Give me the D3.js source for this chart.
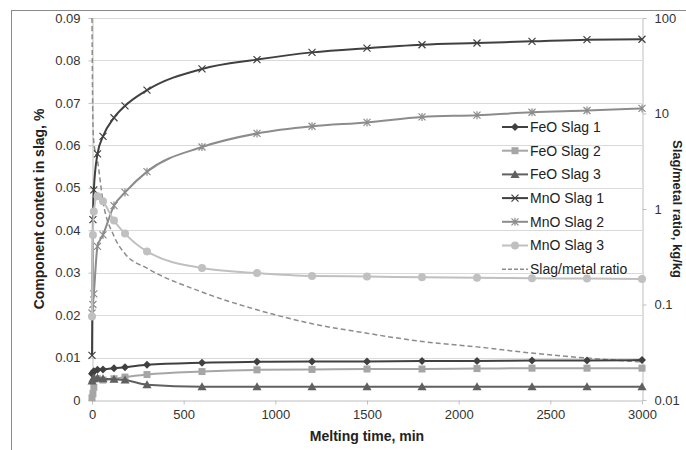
<!DOCTYPE html>
<html>
<head>
<meta charset="utf-8">
<script src="https://d3js.org/d3.v7.min.js"></script>
<style>
    body { margin: 0; padding: 0; background: #fff; }
    svg { display: block; font-family: Arial, "Liberation Sans", sans-serif; }
</style>
</head>
<body>
<div id="chart"></div>
<script>
// Data
const times = [0, 5, 10, 30, 60, 120, 180, 300, 600, 900, 1200, 1500, 1800, 2100, 2400, 2700, 3000];

const feoSlag1 = [0.0062, 0.0065, 0.0068, 0.0071, 0.0072, 0.0075, 0.0077, 0.0083, 0.0088, 0.0090, 0.0091, 0.0091, 0.0092, 0.0092, 0.0093, 0.0093, 0.0094];
const feoSlag2 = [0.0005, 0.0015, 0.0030, 0.0050, 0.0047, 0.0050, 0.0054, 0.0060, 0.0067, 0.0071, 0.0072, 0.0073, 0.0073, 0.0074, 0.0075, 0.0075, 0.0075];
const feoSlag3 = [0.0045, 0.0050, 0.0052, 0.0052, 0.0050, 0.0049, 0.0047, 0.0036, 0.0031, 0.0031, 0.0031, 0.0031, 0.0031, 0.0031, 0.0031, 0.0031, 0.0031];
const mnoSlag1 = [0.0105, 0.0425, 0.0495, 0.0580, 0.0621, 0.0665, 0.0693, 0.0730, 0.0780, 0.0802, 0.0819, 0.0829, 0.0837, 0.0841, 0.0845, 0.0849, 0.0850];
const mnoSlag2 = [0.0205, 0.0225, 0.0250, 0.0362, 0.0389, 0.0458, 0.0489, 0.0538, 0.0596, 0.0628, 0.0645, 0.0654, 0.0667, 0.0671, 0.0678, 0.0682, 0.0687];
const mnoSlag3 = [0.0197, 0.0389, 0.0444, 0.0480, 0.0468, 0.0423, 0.0392, 0.0350, 0.0311, 0.0299, 0.0292, 0.0291, 0.0289, 0.0288, 0.0287, 0.0286, 0.0285];
const slagMetalRatio = [100, 8, 5, 3.2, 1.2, 0.52, 0.34, 0.24, 0.135, 0.088, 0.063, 0.050, 0.041, 0.036, 0.031, 0.0275, 0.025];

const xTicks = [0, 500, 1000, 1500, 2000, 2500, 3000];
const leftTicks = [0, 0.01, 0.02, 0.03, 0.04, 0.05, 0.06, 0.07, 0.08, 0.09];
const rightTicks = [0.01, 0.1, 1, 10, 100];

const seriesNames = ["FeO Slag 1", "FeO Slag 2", "FeO Slag 3", "MnO Slag 1", "MnO Slag 2", "MnO Slag 3"];
const seriesValues = [feoSlag1, feoSlag2, feoSlag3, mnoSlag1, mnoSlag2, mnoSlag3];
const seriesColors = ["#404040", "#a6a6a6", "#606060", "#404040", "#8c8c8c", "#c0c0c0"];
const seriesMarkers = ["diamond", "square", "triangle", "cross", "star", "circle"];

const width = 686;
const height = 450;
const plot = { left: 92, right: 642, top: 18, bottom: 400 };

const svg = d3.select("#chart")
    .append("svg")
    .attr("width", width)
    .attr("height", height);

// chart frame (cropped on the right and bottom in the original)
svg.append("rect")
    .attr("x", 11.5).attr("y", 10.5)
    .attr("width", 700).attr("height", 460)
    .attr("fill", "#fff")
    .attr("stroke", "#8a8a8a");

const x = d3.scaleLinear().domain([0, 3000]).range([plot.left, plot.right]);
const y = d3.scaleLinear().domain([0, 0.09]).range([plot.bottom, plot.top]);
const yRight = d3.scaleLog().domain([0.01, 100]).range([plot.bottom, plot.top]);

// horizontal gridlines
svg.append("g")
    .selectAll("line")
    .data(leftTicks.slice(1))
    .enter()
    .append("line")
    .attr("x1", plot.left).attr("x2", plot.right)
    .attr("y1", d => Math.round(y(d)) + 0.5).attr("y2", d => Math.round(y(d)) + 0.5)
    .attr("stroke", "#d9d9d9");

function styleAxis(g) {
    g.select(".domain").attr("stroke", "#bfbfbf");
    g.selectAll(".tick line").attr("stroke", "#bfbfbf");
    g.selectAll(".tick text")
        .attr("fill", "#333")
        .style("font-size", "13px");
}

svg.append("g")
    .attr("transform", `translate(0,${plot.bottom + 0.5})`)
    .call(d3.axisBottom(x).tickValues(xTicks).tickFormat(d3.format("d")).tickSize(4).tickSizeOuter(0).tickPadding(5))
    .call(styleAxis);

svg.append("g")
    .attr("transform", `translate(${plot.left + 0.5},0)`)
    .call(d3.axisLeft(y).tickValues(leftTicks).tickFormat(d => d === 0 ? "0" : d3.format(".2f")(d)).tickSize(4).tickSizeOuter(0).tickPadding(8))
    .call(styleAxis);

svg.append("g")
    .attr("transform", `translate(${plot.right + 0.5},0)`)
    .call(d3.axisRight(yRight).tickValues(rightTicks).tickFormat(d => String(d)).tickSize(4).tickSizeOuter(0).tickPadding(8))
    .call(styleAxis);

// axis titles
svg.append("text")
    .attr("x", (plot.left + plot.right) / 2)
    .attr("y", 441)
    .attr("text-anchor", "middle")
    .style("font-size", "14px")
    .style("font-weight", "bold")
    .attr("fill", "#222")
    .text("Melting time, min");

svg.append("text")
    .attr("transform", `translate(44,${(plot.top + plot.bottom) / 2}) rotate(-90)`)
    .attr("text-anchor", "middle")
    .style("font-size", "14px")
    .style("font-weight", "bold")
    .attr("fill", "#222")
    .text("Component content in slag, %");

svg.append("text")
    .attr("transform", `translate(673,${(plot.top + plot.bottom) / 2}) rotate(90)`)
    .attr("text-anchor", "middle")
    .style("font-size", "13px")
    .style("font-weight", "bold")
    .attr("fill", "#222")
    .text("Slag/metal ratio, kg/kg");

function drawMarker(g, type, color) {
    if (type === "diamond") {
        g.append("path").attr("d", "M0,-4L4,0L0,4L-4,0Z").attr("fill", color);
    } else if (type === "square") {
        g.append("rect").attr("x", -3.5).attr("y", -3.5).attr("width", 7).attr("height", 7).attr("fill", color);
    } else if (type === "triangle") {
        g.append("path").attr("d", "M0,-4.5L4.5,3.5L-4.5,3.5Z").attr("fill", color);
    } else if (type === "cross") {
        g.append("path").attr("d", "M-3.5,-3.5L3.5,3.5M-3.5,3.5L3.5,-3.5").attr("stroke", color).attr("stroke-width", 1.2);
    } else if (type === "star") {
        g.append("path").attr("d", "M-3.5,-3.5L3.5,3.5M-3.5,3.5L3.5,-3.5M0,-4L0,4").attr("stroke", color).attr("stroke-width", 1.2);
    } else if (type === "circle") {
        g.append("circle").attr("r", 4).attr("fill", color);
    }
}

const line = d3.line()
    .x((d, i) => x(times[i]))
    .y(d => y(d))
    .curve(d3.curveMonotoneX);

const ratioLine = d3.line()
    .x((d, i) => x(times[i]))
    .y(d => yRight(d))
    .curve(d3.curveMonotoneX);

// slag/metal ratio, dashed on the log axis
svg.append("path")
    .attr("d", ratioLine(slagMetalRatio))
    .attr("fill", "none")
    .attr("stroke", "#8c8c8c")
    .attr("stroke-width", 1.5)
    .attr("stroke-dasharray", "5,3");

seriesValues.forEach((values, k) => {
    svg.append("path")
        .attr("d", line(values))
        .attr("fill", "none")
        .attr("stroke", seriesColors[k])
        .attr("stroke-width", 2);

    svg.append("g")
        .selectAll("g")
        .data(values)
        .enter()
        .append("g")
        .attr("transform", (d, i) => `translate(${x(times[i])},${y(d)})`)
        .each(function () { drawMarker(d3.select(this), seriesMarkers[k], seriesColors[k]); });
});

// legend
const legend = svg.append("g").attr("transform", "translate(502,127)");
const legendNames = seriesNames.concat(["Slag/metal ratio"]);
legendNames.forEach((name, i) => {
    const row = legend.append("g").attr("transform", `translate(0,${i * 23.7})`);
    if (i < seriesNames.length) {
        row.append("line").attr("x1", 0).attr("x2", 26).attr("stroke", seriesColors[i]).attr("stroke-width", 2);
        drawMarker(row.append("g").attr("transform", "translate(13,0)"), seriesMarkers[i], seriesColors[i]);
    } else {
        row.append("line").attr("x1", 0).attr("x2", 26).attr("stroke", "#8c8c8c").attr("stroke-width", 1.5).attr("stroke-dasharray", "4,2");
    }
    row.append("text")
        .attr("x", 28)
        .attr("dy", "0.35em")
        .style("font-size", "14px")
        .attr("fill", "#222")
        .text(name);
});
</script>
</body>
</html>
